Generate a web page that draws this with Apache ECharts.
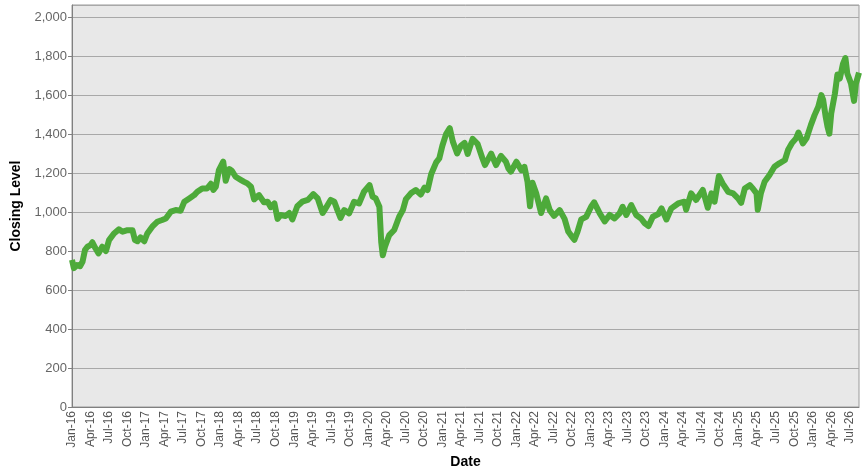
<!DOCTYPE html>
<html>
<head>
<meta charset="utf-8">
<script src="https://cdn.jsdelivr.net/npm/echarts@6/dist/echarts.min.js"></script>
<style>
html,body{margin:0;padding:0;background:#fff;}
#chart{width:866px;height:473px;}
</style>
</head>
<body>
<div id="chart"></div>
<script>
// Months since Jan 2016 (x position of each sample)
const monthsSinceJan2016 = [
  0, 0.3, 0.8, 1.3, 1.7, 2.1, 2.5, 3.0, 3.3, 3.8, 4.3, 4.9, 5.5, 6.0, 6.8, 7.6, 8.2, 9.0, 9.8,
  10.2, 10.6, 11.1, 11.7, 12.2, 13.0, 13.8, 14.6, 15.2, 16.0, 16.8, 17.6, 18.2, 19.0, 19.8,
  20.3, 21.1, 21.9, 22.5, 22.9, 23.3, 23.8, 24.5, 24.9, 25.5, 25.9, 26.5, 27.4, 27.9, 28.4,
  29.0, 29.5, 30.3, 31.1, 31.7, 32.2, 32.8, 33.3, 33.8, 34.6, 35.2, 35.7, 36.5, 37.3, 38.2,
  39.1, 39.8, 40.6, 41.1, 41.9, 42.5, 43.0, 43.5, 44.1, 44.9, 45.7, 46.5, 47.3, 48.2, 48.7,
  49.2, 49.8, 50.1, 50.35, 50.7, 51.4, 52.2, 53.0, 53.6, 54.1, 54.9, 55.7, 56.5, 57.1, 57.6,
  58.2, 59.0, 59.5, 60.0, 60.6, 61.2, 61.7, 62.4, 63.0, 63.6, 64.1, 64.9, 65.7, 66.5, 66.9,
  67.9, 68.7, 69.5, 70.3, 70.7, 71.1, 72.0, 72.8, 73.3, 73.8, 74.2, 74.6, 75.2, 76.0, 76.8,
  77.4, 78.1, 79.0, 79.8, 80.4, 81.0, 81.4, 81.9, 82.5, 83.3, 84.1, 84.6, 85.5, 86.3, 87.1,
  87.9, 88.7, 89.2, 89.8, 90.6, 91.4, 92.2, 92.8, 93.4, 94.1, 95.0, 95.5, 96.3, 97.1, 98.2,
  99.2, 99.5, 100.3, 101.1, 102.2, 103.0, 103.6, 104.1, 104.8, 105.4, 106.3, 107.1, 107.9,
  108.4, 109.0, 109.8, 110.3, 110.9, 111.1, 111.6, 112.2, 113.0, 113.8, 114.6, 115.5, 116.0,
  116.6, 117.3, 117.7, 118.4, 119.0, 119.7, 120.3, 120.9, 121.4, 121.7, 122.1, 122.4, 122.7,
  123.0, 123.6, 124.0, 124.4, 124.9, 125.3, 125.6, 126.2, 126.7, 127.0, 127.5
];
// Closing level at each sample
const closingLevel = [
  755, 712, 728, 722, 745, 805, 822, 830, 845, 814, 788, 822, 800, 856, 890, 911, 899, 907, 907,
  856, 850, 870, 850, 890, 925, 950, 959, 967, 1002, 1010, 1007, 1053, 1070, 1087,
  1104, 1121, 1121, 1145, 1113, 1130, 1215, 1258, 1160, 1220, 1212, 1181, 1164, 1155, 1147,
  1130, 1065, 1087, 1050, 1053, 1025, 1044, 965, 985, 980, 995, 962, 1030, 1053, 1062,
  1092, 1070, 995, 1019, 1062, 1053, 1010, 970, 1010, 993, 1053, 1044, 1104, 1138, 1079,
  1070, 1027, 845, 778, 822, 882, 908, 976, 1010, 1066, 1096, 1113, 1090, 1125, 1113,
  1195, 1255, 1275, 1340, 1400, 1430, 1361, 1301, 1340, 1355, 1298, 1375, 1350, 1275, 1241,
  1300, 1241, 1288, 1258, 1224, 1207, 1258, 1215, 1232, 1155, 1030, 1150, 1096, 995, 1070,
  1010, 980, 1010, 965, 900, 873, 858, 899, 962, 975, 1027, 1050, 993, 952, 985,
  967, 993, 1027, 985, 1036, 985, 967, 942, 928, 976, 990, 1019, 962, 1019, 1044,
  1053, 1012, 1096, 1062, 1113, 1022, 1096, 1053, 1185, 1147, 1104, 1096, 1070,
  1047, 1121, 1138, 1121, 1096, 1012, 1096, 1155, 1190, 1232, 1250, 1267, 1318,
  1352, 1378, 1408, 1352, 1378, 1446, 1497, 1540, 1600, 1574, 1489, 1438, 1402,
  1506, 1608, 1705, 1685, 1760, 1790, 1711, 1660, 1570, 1659, 1715
];
// Tick labels every three months along the date axis
const xTickLabels = [
  'Jan-16','Apr-16','Jul-16','Oct-16','Jan-17','Apr-17','Jul-17','Oct-17',
  'Jan-18','Apr-18','Jul-18','Oct-18','Jan-19','Apr-19','Jul-19','Oct-19',
  'Jan-20','Apr-20','Jul-20','Oct-20','Jan-21','Apr-21','Jul-21','Oct-21',
  'Jan-22','Apr-22','Jul-22','Oct-22','Jan-23','Apr-23','Jul-23','Oct-23',
  'Jan-24','Apr-24','Jul-24','Oct-24','Jan-25','Apr-25','Jul-25','Oct-25',
  'Jan-26','Apr-26','Jul-26'
];

const seriesData = monthsSinceJan2016.map((m, i) => [m, closingLevel[i]]);

const chart = echarts.init(document.getElementById('chart'), null, {renderer: 'canvas'});
chart.setOption({
  animation: false,
  backgroundColor: '#ffffff',
  textStyle: {fontFamily: 'Liberation Sans, Arial, sans-serif'},
  grid: {
    left: 72, right: 7, top: 5, bottom: 66,
    outerBoundsMode: 'none',
    show: true,
    backgroundColor: '#E8E8E8',
    borderColor: '#9a9a9a',
    borderWidth: 1
  },
  xAxis: {
    type: 'value',
    min: 0,
    max: 127.5,
    interval: 3,
    name: 'Date',
    nameLocation: 'middle',
    nameGap: 46,
    nameTextStyle: {fontSize: 14, fontWeight: 'bold', color: '#000'},
    axisLine: {show: true, lineStyle: {color: '#808080', width: 1}},
    axisTick: {show: false},
    splitLine: {show: false},
    axisLabel: {
      rotate: 90,
      fontSize: 12,
      color: '#555',
      margin: 4,
      showMaxLabel: false,
      formatter: function (v) {
        const idx = Math.round(v / 3);
        return xTickLabels[idx] !== undefined ? xTickLabels[idx] : '';
      }
    }
  },
  yAxis: {
    type: 'value',
    min: 0,
    max: 2062,
    interval: 200,
    name: 'Closing Level',
    nameLocation: 'middle',
    nameGap: 42,
    nameTextStyle: {fontSize: 14, fontWeight: 'bold', color: '#000'},
    axisLine: {show: true, lineStyle: {color: '#808080', width: 1}},
    axisTick: {show: true, length: 4, lineStyle: {color: '#808080'}},
    splitLine: {show: true, lineStyle: {color: '#a8a8a8', width: 1}},
    axisLabel: {
      fontSize: 13,
      color: '#666',
      margin: 5,
      showMaxLabel: false,
      formatter: function (v) { return v.toLocaleString('en-US'); }
    }
  },
  series: [{
    type: 'line',
    data: seriesData,
    showSymbol: false,
    smooth: false,
    lineStyle: {color: '#4DAA3A', width: 6, join: 'round'},
    itemStyle: {color: '#4DAA3A'}
  }]
});
</script>
</body>
</html>
